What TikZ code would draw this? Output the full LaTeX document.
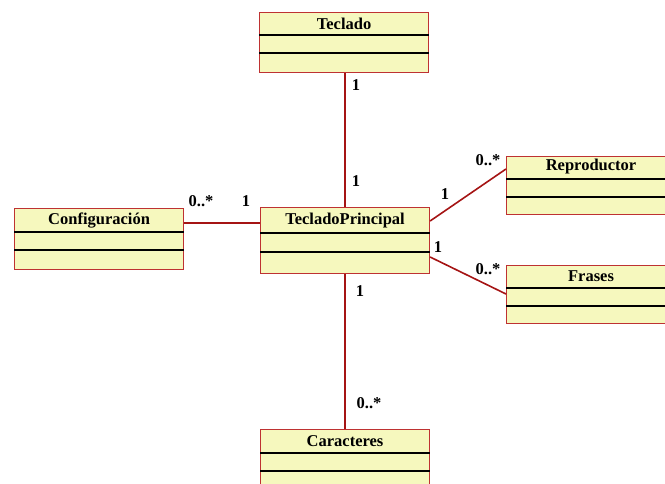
\documentclass[tikz,border=0pt]{standalone}
\usepackage{fontspec}
\setmainfont{Liberation Serif}
\usetikzlibrary{calc}
\definecolor{classfill}{RGB}{246,248,190}
\definecolor{classedge}{RGB}{190,50,50}
\definecolor{assoc}{RGB}{165,20,20}
\tikzset{
  classbox/.style={draw=classedge, fill=classfill, line width=1.1pt, rectangle,
    minimum width=169pt, inner sep=0pt, anchor=north west},
  divider/.style={draw=black, line width=1.8pt},
  assocline/.style={draw=assoc, line width=1.6pt},
  classtitle/.style={font=\bfseries\fontsize{16.5}{18}\selectfont, inner sep=0pt},
  mult/.style={font=\bfseries\fontsize{16.5}{18}\selectfont, inner sep=0pt},
}
% \umlclass{name}{x}{y}{height}{first divider}{second divider}{title offset}{title}
% (the picture's y axis points down, so offsets below the top are positive)
\newcommand\umlclass[8]{%
  \node[classbox, minimum height=#4pt] (#1) at (#2,#3) {};
  \draw[divider] ($(#1.north west)+(0,#5)$) -- ($(#1.north east)+(0,#5)$);
  \draw[divider] ($(#1.north west)+(0,#6)$) -- ($(#1.north east)+(0,#6)$);
  \node[classtitle] (#1-title) at ($(#1.north)+(0,#7)$) {#8};
}
\begin{document}
\begin{tikzpicture}[x=1pt, y=-1pt]
  \useasboundingbox (0,0) rectangle (665,484);
  \begin{scope}
    \clip (0,0) rectangle (665,484);
    \umlclass{teclado}{259}{12}{60}{23}{41}{12}{Teclado}
    \umlclass{config}{14}{208}{61}{24}{42}{13}{Configuración}
    \umlclass{tp}{260}{207}{66}{26}{45}{14}{TecladoPrincipal}
    \umlclass{repro}{506}{156}{58}{23}{41}{11}{Reproductor}
    \umlclass{frases}{506}{265}{58}{23}{41}{11}{Frases}
    \umlclass{caract}{260}{429}{70}{24}{42}{12}{Caracteres}
  \end{scope}

  % associations
  \draw[assocline] (teclado.south -| 345,0) -- (tp.north -| 345,0);
  \draw[assocline] (tp.south -| 345,0) -- (caract.north -| 345,0);
  \draw[assocline] ($(config.north east)+(0,15)$) -- ($(tp.north west)+(0,16)$);
  \draw[assocline] ($(tp.north east)+(0,14)$) -- ($(repro.north west)+(0,13)$);
  \draw[assocline] ($(tp.north east)+(0,50)$) -- ($(frases.north west)+(0,29)$);

  % multiplicities
  \node[mult] (m1) at (356,85) {1};
  \node[mult] (m2) at (356,181) {1};
  \node[mult] (m3) at (201,201) {0..*};
  \node[mult] (m4) at (246,201) {1};
  \node[mult] (m5) at (445,194) {1};
  \node[mult] (m6) at (488,160) {0..*};
  \node[mult] (m7) at (438,247) {1};
  \node[mult] (m8) at (488,269) {0..*};
  \node[mult] (m9) at (360,291) {1};
  \node[mult] (m10) at (369,403) {0..*};
\end{tikzpicture}
\end{document}
